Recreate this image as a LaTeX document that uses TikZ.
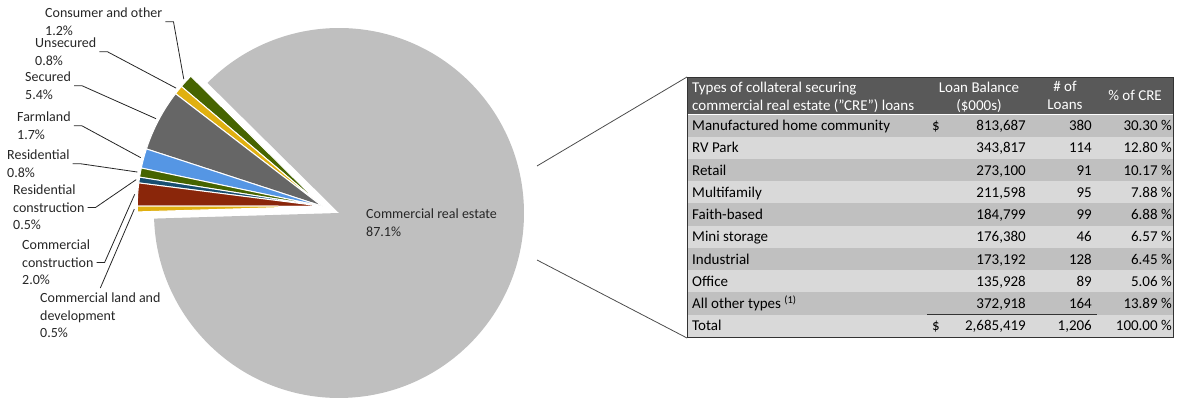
\documentclass[tikz,border=0pt]{standalone}
\usepackage{fontspec}
\setmainfont{Carlito}
\usepackage{tikz}
\usetikzlibrary{positioning,calc}

\definecolor{crecol}{RGB}{191,191,191}
\definecolor{oliveg}{RGB}{70,100,0}
\definecolor{goldc}{RGB}{224,176,16}
\definecolor{securedc}{RGB}{102,102,102}
\definecolor{farmc}{RGB}{85,150,228}
\definecolor{resconc}{RGB}{24,78,112}
\definecolor{comconc}{RGB}{138,38,10}
\definecolor{hdrc}{RGB}{89,89,89}
\definecolor{rowdark}{RGB}{192,192,192}
\definecolor{rowlight}{RGB}{217,217,217}

\begin{document}
\begin{tikzpicture}[x=1pt, y=1pt,
    lbl/.style={font=\fontsize{14}{17.3}\selectfont, text=black!85, align=left, anchor=north west, inner sep=0pt},
    leader/.style={black!85, line width=0.8pt},
    cell/.style={font=\fontsize{15}{18}\selectfont, inner sep=0pt},
    hdr/.style={cell, text=white, align=center, anchor=north},
    zoomline/.style={black!70, line width=0.8pt}]
    \useasboundingbox (0, 0) rectangle (1191, 401);

    % Commercial real estate slice
    \coordinate (cre) at (339, 188);
    \fill [crecol] (cre) -- ++(-178.26:185) arc [start angle=-178.26, end angle=135.3, radius=185] -- cycle;
    \node [lbl] (crel) at (366, 192) {Commercial real estate\\87.1\%};

    % Exploded small slices
    \coordinate (apex) at (322.3, 194.7);
    \foreach \a/\b/\c [count=\i] in {135.3/139.62/oliveg, 139.62/142.5/goldc, 142.5/161.94/securedc,
        161.94/168.06/farmc, 168.06/170.94/oliveg, 170.94/172.74/resconc,
        172.74/179.94/comconc, 179.94/181.74/goldc} {
        \filldraw [fill=\c, draw=white, line width=1pt, line join=round] (apex) -- ++(\a:185) arc [start angle=\a, end angle=\b, radius=185] -- cycle;
        \coordinate (s\i) at ($(apex) + ({(\a+\b)/2}:188)$);
    }

    % Slice labels
    \node [lbl] (cons) at (45, 393) {Consumer and other\\1.2\%};
    \node [lbl] (unsec) at (35, 363) {Unsecured\\0.8\%};
    \node [lbl] (secd) at (25, 329) {Secured\\5.4\%};
    \node [lbl] (farm) at (17, 289) {Farmland\\1.7\%};
    \node [lbl] (resid) at (7, 251) {Residential\\0.8\%};
    \node [lbl] (rescon) at (13, 216) {Residential\\construction\\0.5\%};
    \node [lbl] (comcon) at (22, 161) {Commercial\\construction\\2.0\%};
    \node [lbl] (comland) at (40, 108) {Commercial land and\\development\\0.5\%};

    % Leader lines
    \draw [leader] ([xshift=3]cons.east) -- ++(8, 0) -- (s1);
    \draw [leader] ([xshift=3]unsec.east) -- ++(8, 0) -- (s2);
    \draw [leader] ([xshift=3]secd.east) -- ++(8, 0) -- (s3);
    \draw [leader] ([xshift=3]farm.east) -- ++(8, 0) -- (s4);
    \draw [leader] ([xshift=3]resid.east) -- ++(8, 0) -- (s5);
    \draw [leader] ([xshift=3]rescon.east) -- ++(8, 0) -- (s6);
    \draw [leader] ([xshift=3]comcon.east) -- ++(8, 0) -- (s7);
    \draw [leader] ([yshift=5]comland.north) -- (s8);

    % Table header
    \fill [hdrc] (687, 324) rectangle (1173, 286.5);
    \node [hdr, anchor=north west, align=left] (h1) at (692, 319.5) {Types of collateral securing\\commercial real estate ("CRE") loans};
    \node [hdr] (h2) at (979, 319.5) {Loan Balance\\(\$000s)};
    \node [hdr] (h3) at (1065, 319.5) {\# of\\Loans};
    \node [hdr, anchor=base] (h4) at (1135, 300) {\% of CRE};

    % Table rows
    \foreach \fc/\typ/\bal/\cnt/\pct [count=\i] in {
        rowdark/Manufactured home community/{813,687}/380/30.30,
        rowlight/RV Park/{343,817}/114/12.80,
        rowdark/Retail/{273,100}/91/10.17,
        rowlight/Multifamily/{211,598}/95/7.88,
        rowdark/Faith-based/{184,799}/99/6.88,
        rowlight/Mini storage/{176,380}/46/6.57,
        rowdark/Industrial/{173,192}/128/6.45,
        rowlight/Office/{135,928}/89/5.06,
        rowdark/All other types \textsuperscript{(1)}/{372,918}/164/13.89,
        rowlight/Total/{2,685,419}/{1,206}/100.00} {
        \pgfmathsetmacro{\rt}{286.5-(\i-1)*22.25}
        \fill [\fc] (687, \rt) rectangle (1173, \rt-22.25);
        \node [cell, anchor=base west] (t\i) at (692, \rt-16.1) {\typ};
        \node [cell, anchor=base east] (b\i) at (1026, \rt-16.1) {\bal};
        \node [cell, anchor=base east] (c\i) at (1092, \rt-16.1) {\cnt};
        \node [cell, anchor=base east] (p\i) at (1172, \rt-16.1) {\pct~\%};
    }
    \node [cell, anchor=base west] (d1) at (932, 270.4) {\$};
    \node [cell, anchor=base west] (d10) at (932, 70.15) {\$};
    \draw [white, line width=1.5pt] (687, 286.5) -- (1173, 286.5);
    \draw [black!80, line width=1pt] (927, 86.25) -- (1097, 86.25);

    % Table frame
    \node [draw=black!80, line width=1pt, minimum width=486pt, minimum height=260pt, inner sep=0pt, anchor=north west] (tbl) at (687, 324) {};

    % Zoom lines
    \coordinate (zt) at (537, 235);
    \coordinate (zb) at (537, 141);
    \draw [zoomline] (zt) -- (tbl.north west);
    \draw [zoomline] (zb) -- (tbl.south west);
\end{tikzpicture}
\end{document}
